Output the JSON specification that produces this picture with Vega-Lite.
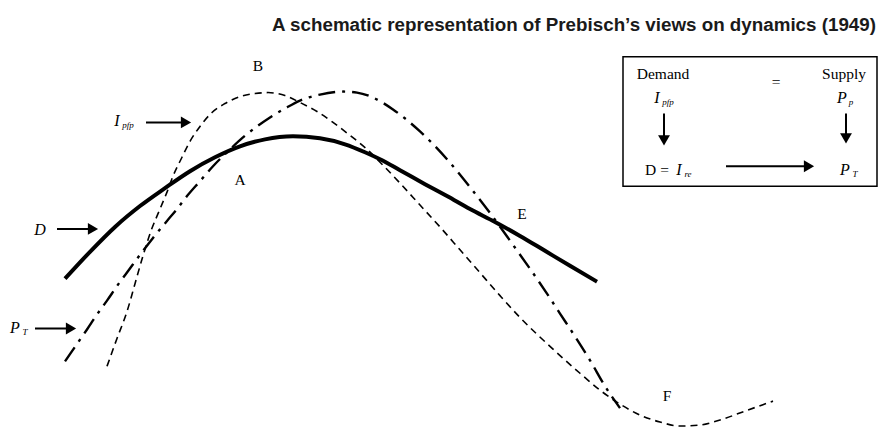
{
  "$schema": "https://vega.github.io/schema/vega-lite/v6.json",
  "width": 881,
  "height": 430,
  "autosize": {"type": "fit", "contains": "padding"},
  "padding": 0,
  "background": "white",
  "config": {"view": {"stroke": null}},
  "datasets": {
    "curves": [
      {"series": "D", "x": 65, "y": 280}, {"series": "D", "x": 90, "y": 253}, {"series": "D", "x": 115, "y": 228},
      {"series": "D", "x": 140, "y": 207}, {"series": "D", "x": 165, "y": 189}, {"series": "D", "x": 190, "y": 172},
      {"series": "D", "x": 215, "y": 158}, {"series": "D", "x": 240, "y": 147}, {"series": "D", "x": 265, "y": 140},
      {"series": "D", "x": 293, "y": 137}, {"series": "D", "x": 320, "y": 139}, {"series": "D", "x": 345, "y": 145},
      {"series": "D", "x": 365, "y": 153}, {"series": "D", "x": 380, "y": 160}, {"series": "D", "x": 400, "y": 171},
      {"series": "D", "x": 425, "y": 185}, {"series": "D", "x": 447, "y": 197}, {"series": "D", "x": 470, "y": 210},
      {"series": "D", "x": 495, "y": 223}, {"series": "D", "x": 520, "y": 237}, {"series": "D", "x": 545, "y": 252},
      {"series": "D", "x": 570, "y": 267}, {"series": "D", "x": 597, "y": 283},

      {"series": "Ipfp", "x": 107, "y": 368}, {"series": "Ipfp", "x": 117, "y": 340}, {"series": "Ipfp", "x": 127, "y": 313},
      {"series": "Ipfp", "x": 135, "y": 285}, {"series": "Ipfp", "x": 143, "y": 257}, {"series": "Ipfp", "x": 151, "y": 232},
      {"series": "Ipfp", "x": 160, "y": 210}, {"series": "Ipfp", "x": 167, "y": 193}, {"series": "Ipfp", "x": 173, "y": 177},
      {"series": "Ipfp", "x": 182, "y": 158}, {"series": "Ipfp", "x": 190, "y": 142}, {"series": "Ipfp", "x": 200, "y": 127},
      {"series": "Ipfp", "x": 212, "y": 113}, {"series": "Ipfp", "x": 225, "y": 104}, {"series": "Ipfp", "x": 240, "y": 97},
      {"series": "Ipfp", "x": 255, "y": 94}, {"series": "Ipfp", "x": 268, "y": 93}, {"series": "Ipfp", "x": 285, "y": 96},
      {"series": "Ipfp", "x": 300, "y": 103}, {"series": "Ipfp", "x": 317, "y": 112}, {"series": "Ipfp", "x": 333, "y": 123},
      {"series": "Ipfp", "x": 350, "y": 136}, {"series": "Ipfp", "x": 367, "y": 150}, {"series": "Ipfp", "x": 383, "y": 166},
      {"series": "Ipfp", "x": 400, "y": 184}, {"series": "Ipfp", "x": 420, "y": 206}, {"series": "Ipfp", "x": 440, "y": 228},
      {"series": "Ipfp", "x": 460, "y": 251}, {"series": "Ipfp", "x": 480, "y": 274}, {"series": "Ipfp", "x": 500, "y": 297},
      {"series": "Ipfp", "x": 520, "y": 319}, {"series": "Ipfp", "x": 550, "y": 348}, {"series": "Ipfp", "x": 580, "y": 375},
      {"series": "Ipfp", "x": 600, "y": 392}, {"series": "Ipfp", "x": 620, "y": 406}, {"series": "Ipfp", "x": 640, "y": 417},
      {"series": "Ipfp", "x": 660, "y": 424}, {"series": "Ipfp", "x": 680, "y": 428}, {"series": "Ipfp", "x": 700, "y": 427},
      {"series": "Ipfp", "x": 720, "y": 422}, {"series": "Ipfp", "x": 745, "y": 413}, {"series": "Ipfp", "x": 773, "y": 403},

      {"series": "PT", "x": 65, "y": 363}, {"series": "PT", "x": 76, "y": 347}, {"series": "PT", "x": 87, "y": 331},
      {"series": "PT", "x": 97, "y": 316}, {"series": "PT", "x": 107, "y": 302}, {"series": "PT", "x": 118, "y": 286},
      {"series": "PT", "x": 129, "y": 271}, {"series": "PT", "x": 140, "y": 256}, {"series": "PT", "x": 153, "y": 239},
      {"series": "PT", "x": 167, "y": 222}, {"series": "PT", "x": 177, "y": 210}, {"series": "PT", "x": 187, "y": 197},
      {"series": "PT", "x": 200, "y": 182}, {"series": "PT", "x": 213, "y": 167}, {"series": "PT", "x": 228, "y": 152},
      {"series": "PT", "x": 243, "y": 138}, {"series": "PT", "x": 257, "y": 127}, {"series": "PT", "x": 270, "y": 118},
      {"series": "PT", "x": 285, "y": 109}, {"series": "PT", "x": 300, "y": 101}, {"series": "PT", "x": 320, "y": 95},
      {"series": "PT", "x": 343, "y": 92}, {"series": "PT", "x": 357, "y": 93}, {"series": "PT", "x": 373, "y": 98},
      {"series": "PT", "x": 393, "y": 110}, {"series": "PT", "x": 420, "y": 132}, {"series": "PT", "x": 447, "y": 160},
      {"series": "PT", "x": 470, "y": 188}, {"series": "PT", "x": 493, "y": 218}, {"series": "PT", "x": 513, "y": 246},
      {"series": "PT", "x": 530, "y": 270}, {"series": "PT", "x": 547, "y": 295}, {"series": "PT", "x": 560, "y": 315},
      {"series": "PT", "x": 575, "y": 338}, {"series": "PT", "x": 590, "y": 362}, {"series": "PT", "x": 605, "y": 388},
      {"series": "PT", "x": 620, "y": 410}
    ],
    "arrows": [
      {"name": "Ipfp", "x": 146, "y": 123, "x2": 186, "y2": 123, "head": "right"},
      {"name": "D", "x": 57, "y": 230, "x2": 93, "y2": 230, "head": "right"},
      {"name": "PT", "x": 35, "y": 330, "x2": 71, "y2": 330, "head": "right"},
      {"name": "box-left", "x": 664, "y": 114, "x2": 664, "y2": 141, "head": "down"},
      {"name": "box-right", "x": 846, "y": 114, "x2": 846, "y2": 139, "head": "down"},
      {"name": "box-mid", "x": 726, "y": 167, "x2": 809, "y2": 167, "head": "right"}
    ],
    "box": [{"x": 623, "y": 57, "x2": 877, "y2": 187}],
    "labels": [
      {"role": "title", "text": "A schematic representation of Prebisch’s views on dynamics (1949)", "x": 876, "y": 25},
      {"role": "letter", "text": "B", "x": 258, "y": 66},
      {"role": "letter", "text": "A", "x": 240, "y": 181},
      {"role": "letter", "text": "E", "x": 522, "y": 215},
      {"role": "letter", "text": "F", "x": 667, "y": 398},
      {"role": "letter", "text": "Demand", "x": 663, "y": 74},
      {"role": "letter", "text": "Supply", "x": 844, "y": 74},
      {"role": "letter", "text": "=", "x": 776, "y": 82},
      {"role": "letter", "text": "D =", "x": 657, "y": 171},
      {"role": "symbol", "text": "I", "x": 657, "y": 98},
      {"role": "symbol", "text": "P", "x": 842, "y": 98},
      {"role": "symbol", "text": "I", "x": 679, "y": 171},
      {"role": "symbol", "text": "P", "x": 845, "y": 171},
      {"role": "symbol", "text": "I", "x": 117, "y": 122},
      {"role": "symbol", "text": "D", "x": 40, "y": 231},
      {"role": "symbol", "text": "P", "x": 15, "y": 330},
      {"role": "sub", "text": "pfp", "x": 668, "y": 102},
      {"role": "sub", "text": "p", "x": 851, "y": 102},
      {"role": "sub", "text": "re", "x": 688, "y": 175},
      {"role": "sub", "text": "T", "x": 855, "y": 175},
      {"role": "sub", "text": "pfp", "x": 128, "y": 126},
      {"role": "sub", "text": "T", "x": 25, "y": 334}
    ]
  },
  "encoding": {
    "x": {"field": "x", "type": "quantitative", "scale": {"domain": [0, 881], "nice": false, "zero": false}, "axis": null},
    "y": {"field": "y", "type": "quantitative", "scale": {"domain": [0, 430], "nice": false, "zero": false, "reverse": true}, "axis": null}
  },
  "layer": [
    {
      "data": {"name": "box"},
      "mark": {"type": "rect", "fill": null, "fillOpacity": 0, "stroke": "black", "strokeWidth": 1.5},
      "encoding": {"x2": {"field": "x2"}, "y2": {"field": "y2"}}
    },
    {
      "data": {"name": "curves"},
      "transform": [{"filter": "datum.series === 'Ipfp'"}],
      "mark": {"type": "line", "interpolate": "monotone", "color": "black", "strokeWidth": 1.6, "strokeDash": [7, 5]}
    },
    {
      "data": {"name": "curves"},
      "transform": [{"filter": "datum.series === 'PT'"}],
      "mark": {"type": "line", "interpolate": "monotone", "color": "black", "strokeWidth": 2.4, "strokeDash": [17, 7, 3, 7]}
    },
    {
      "data": {"name": "curves"},
      "transform": [{"filter": "datum.series === 'D'"}],
      "mark": {"type": "line", "interpolate": "monotone", "color": "black", "strokeWidth": 4}
    },
    {
      "data": {"name": "arrows"},
      "mark": {"type": "rule", "color": "black", "strokeWidth": 2},
      "encoding": {"x2": {"field": "x2"}, "y2": {"field": "y2"}}
    },
    {
      "data": {"name": "arrows"},
      "transform": [{"filter": "datum.head === 'right'"}],
      "mark": {"type": "point", "shape": "triangle-right", "filled": true, "color": "black", "size": 140, "opacity": 1},
      "encoding": {"x": {"field": "x2", "type": "quantitative"}, "y": {"field": "y2", "type": "quantitative"}}
    },
    {
      "data": {"name": "arrows"},
      "transform": [{"filter": "datum.head === 'down'"}],
      "mark": {"type": "point", "shape": "triangle-down", "filled": true, "color": "black", "size": 140, "opacity": 1},
      "encoding": {"x": {"field": "x2", "type": "quantitative"}, "y": {"field": "y2", "type": "quantitative"}}
    },
    {
      "data": {"name": "labels"},
      "transform": [{"filter": "datum.role === 'title'"}],
      "mark": {"type": "text", "font": "Liberation Sans", "fontWeight": "bold", "fontSize": 18.8, "align": "right", "baseline": "middle", "fill": "#1a1a1a"},
      "encoding": {"text": {"field": "text"}}
    },
    {
      "data": {"name": "labels"},
      "transform": [{"filter": "datum.role === 'letter'"}],
      "mark": {"type": "text", "font": "Liberation Serif", "fontSize": 15.5, "align": "center", "baseline": "middle", "fill": "black"},
      "encoding": {"text": {"field": "text"}}
    },
    {
      "data": {"name": "labels"},
      "transform": [{"filter": "datum.role === 'symbol'"}],
      "mark": {"type": "text", "font": "Liberation Serif", "fontStyle": "italic", "fontSize": 16, "align": "center", "baseline": "middle", "fill": "black"},
      "encoding": {"text": {"field": "text"}}
    },
    {
      "data": {"name": "labels"},
      "transform": [{"filter": "datum.role === 'sub'"}],
      "mark": {"type": "text", "font": "Liberation Serif", "fontStyle": "italic", "fontSize": 9, "align": "center", "baseline": "middle", "fill": "black"},
      "encoding": {"text": {"field": "text"}}
    }
  ]
}
